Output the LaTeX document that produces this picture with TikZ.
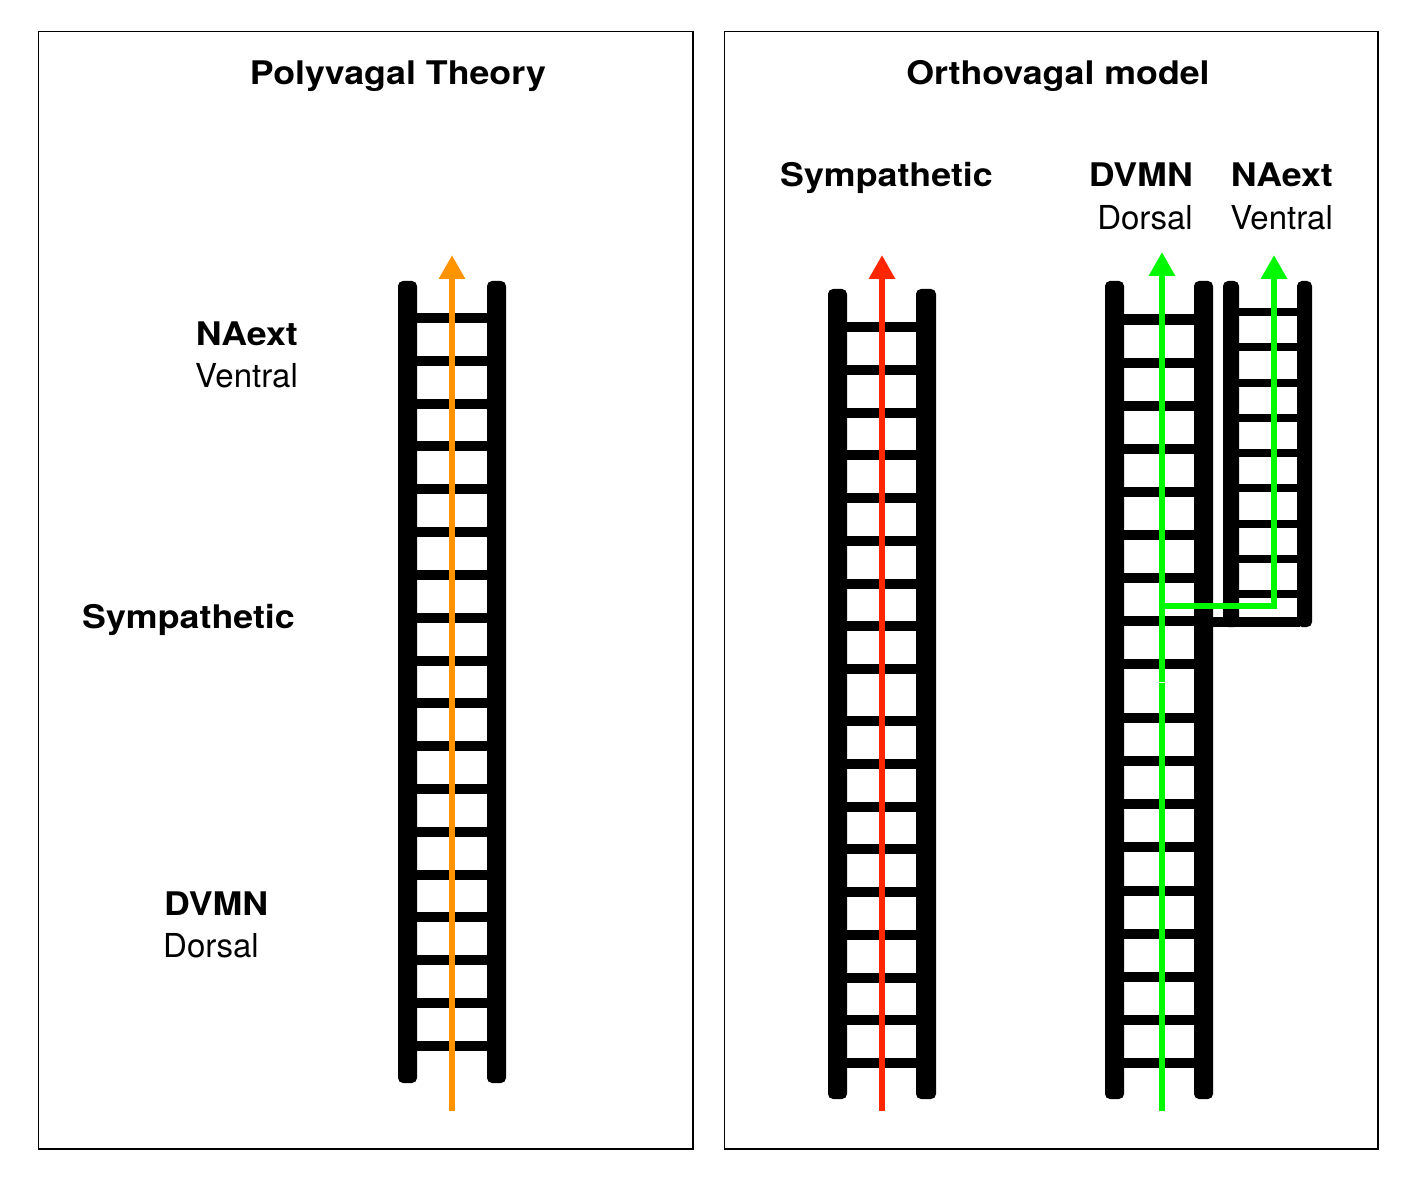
\documentclass[tikz,border=0pt]{standalone}
\usepackage{fontspec}
\setmainfont{TeX Gyre Heros}[FakeStretch=1.1]
\newfontfamily\regfont{TeX Gyre Heros}
\usetikzlibrary{arrows.meta}
\definecolor{orangeC}{RGB}{255,147,0}
\definecolor{redC}{RGB}{255,38,0}
\definecolor{greenC}{RGB}{0,249,0}
\tikzset{
  boldlab/.style={font=\fontsize{32.5}{38}\selectfont\bfseries, inner sep=0pt},
  reglab/.style={font=\regfont\fontsize{33}{38}\selectfont, inner sep=0pt},
  panel/.style={draw=black, line width=1.5pt},
  rail/.style={fill=black, rounded corners=5pt},
  rung/.style={fill=black},
  vagus/.style={line width=6pt, -{Triangle[width=25pt,length=24pt]}},
  vagusline/.style={line width=6pt},
}
\begin{document}
\begin{tikzpicture}[x=1pt,y=-1pt]
\useasboundingbox (0,0) rectangle (1408,1182);
% panels
\draw[panel] (38.5,31.5) rectangle (693,1149);
\draw[panel] (724.5,31.5) rectangle (1378,1149);
% titles
\node[boldlab, anchor=base] (title1) at (398,85) {Polyvagal Theory};
\node[boldlab, anchor=base] (title2) at (1058,85) {Orthovagal model};
% left labels
\node[boldlab, anchor=base east] (naL) at (298,345) {NAext};
\node[reglab, anchor=base east] (venL) at (298,387) {Ventral};
\node[boldlab, anchor=base east] (symL) at (295,628) {Sympathetic};
\node[boldlab, anchor=base west] (dvL) at (164,915) {DVMN};
\node[reglab, anchor=base west] (dorL) at (163,957) {Dorsal};
% right labels
\node[boldlab, anchor=base] (symR) at (886.5,187) {Sympathetic};
\node[boldlab, anchor=base east] (dvR) at (1193,187) {DVMN};
\node[reglab, anchor=base east] (dorR) at (1193,230) {Dorsal};
\node[boldlab, anchor=base east] (naR) at (1333,187) {NAext};
\node[reglab, anchor=base east] (venR) at (1333,230) {Ventral};

% ---- left ladder
\fill[rail] (398,281) rectangle (417,1083);
\fill[rail] (487,281) rectangle (506,1083);
\foreach \k in {0,...,17}
  \fill[rung] (416,{318+42.82*\k-5}) rectangle (488,{318+42.82*\k+5});

% ---- right: sympathetic ladder
\fill[rail] (828,289) rectangle (847,1099);
\fill[rail] (916,289) rectangle (936,1099);
\foreach \k in {0,...,8}{
  \fill[rung] (846,{327+42.75*\k-5}) rectangle (917,{327+42.75*\k+5});
  \fill[rung] (846,{721+42.75*\k-5}) rectangle (917,{721+42.75*\k+5});
}

% ---- right: DVMN ladder
\fill[rail] (1105,281) rectangle (1124,1099);
\fill[rail] (1194,281) rectangle (1213,1099);
\foreach \k in {0,...,8}{
  \fill[rung] (1123,{319.5+43*\k-5}) rectangle (1195,{319.5+43*\k+5});
  \fill[rung] (1123,{718+43.125*\k-5}) rectangle (1195,{718+43.125*\k+5});
}

% ---- right: NAext ladder
\fill[rail] (1223,281) rectangle (1239,627);
\fill[rail] (1297,281) rectangle (1312,627);
\fill[rung] (1212,617) rectangle (1300,627);
\foreach \k in {0,...,8}
  \fill[rung] (1238,{312+35.25*\k-4}) rectangle (1298,{312+35.25*\k+4});

% ---- arrows
\coordinate (oBot) at (452,1111);
\coordinate (oTop) at (452,255);
\draw[vagus, orangeC] (oBot) -- (oTop);

\coordinate (rBot) at (882,1111);
\coordinate (rTop) at (882,255);
\draw[vagus, redC] (rBot) -- (rTop);

\coordinate (gBot) at (1162,1111);
\coordinate (gGapA) at (1162,683);
\coordinate (gGapB) at (1162,682);
\coordinate (gTop) at (1162,252);
\coordinate (gBranch) at (1159,606);
\coordinate (gCorner) at (1274,606);
\coordinate (nTop) at (1274,255);
\draw[vagusline, greenC] (gBot) -- (gGapA);
\draw[vagus, greenC] (gGapB) -- (gTop);
\draw[vagus, greenC] (gBranch) -- (gCorner) -- (nTop);
\end{tikzpicture}
\end{document}
